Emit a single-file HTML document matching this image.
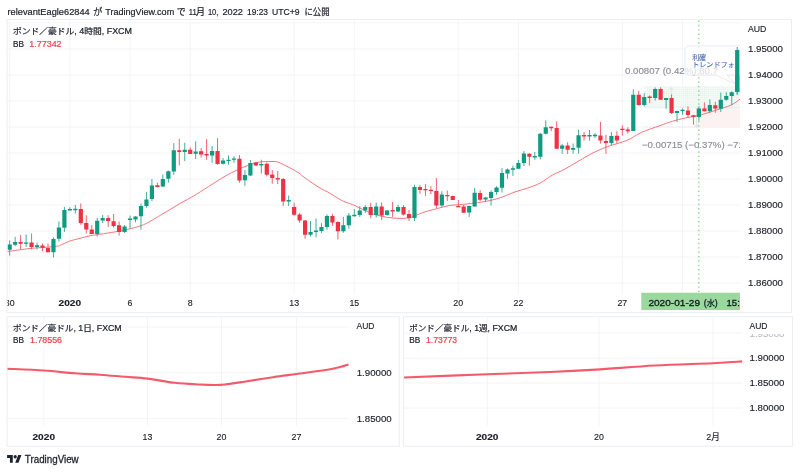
<!DOCTYPE html><html><head><meta charset="utf-8"><title>TradingView chart</title>
<style>html,body{margin:0;padding:0;background:#fff;}body{width:800px;height:472px;overflow:hidden;position:relative;}svg{position:absolute;left:0;top:0;display:block;}text{font-family:"Liberation Sans","Noto Sans CJK JP",sans-serif;}</style></head><body>
<svg width="800" height="472" viewBox="0 0 800 472">
<rect width="800" height="472" fill="#fff"/>
<defs>
<clipPath id="cm"><rect x="7" y="19.5" width="733" height="273.0"/></clipPath>
<clipPath id="ct"><rect x="7" y="292.5" width="733" height="20.19999999999999"/></clipPath>
<pattern id="dots" x="644.1" y="86.1" width="2.12" height="2.12" patternUnits="userSpaceOnUse"><rect width="2.12" height="2.12" fill="#f5faf6"/><circle cx="1.06" cy="1.06" r="0.5" fill="#dceee4"/></pattern>
<clipPath id="cc"><rect x="685" y="46" width="49.8" height="30"/></clipPath>
</defs>
<path d="M9.7 19.5V293.5 M69.87 19.5V293.5 M130.04 19.5V293.5 M190.21 19.5V293.5 M294.14 19.5V293.5 M354.31 19.5V293.5 M458.24 19.5V293.5 M518.41 19.5V293.5 M622.34 19.5V293.5 M682.51 19.5V293.5 M7 22.8H740 M7 49H740 M7 75H740 M7 101H740 M7 127H740 M7 153H740 M7 179H740 M7 205H740 M7 231H740 M7 257H740 M7 283H740" stroke="#f3f4f7" stroke-width="1" fill="none"/>
<g clip-path="url(#cm)">
<rect x="644.1" y="86.1" width="95.89999999999998" height="21.60000000000001" fill="url(#dots)"/>
<rect x="696" y="107.9" width="44" height="19.89999999999999" fill="#fdf2f2"/>
<path d="M644.6 107.6H740M644.6 127H700" stroke="#e6e8ec" stroke-width="0.7" fill="none"/>
<path d="M671.5 107V87.5M669.3 90.2L671.5 87.3L673.7 90.2" stroke="#dfe1e5" stroke-width="0.7" fill="none"/>
<path d="M696.3 108.5V127M694.3 124.6L696.3 127.3L698.3 124.6" stroke="#d5d7dc" stroke-width="0.7" fill="none"/>
</g>
<path d="M698.8 20.5V292" stroke="#7fd585" stroke-width="1.3" stroke-dasharray="1.4 2.96" fill="none"/>
<g clip-path="url(#cm)">
<path d="M7 251.6C7.08 251.58 3.5 252.03 7.5 251.5C11.5 250.97 23.08 249.23 31 248.4C38.92 247.57 49.83 247.15 55 246.5C60.17 245.85 59.5 245.42 62 244.5C64.5 243.58 67 242.03 70 241C73 239.97 76.67 239.17 80 238.3C83.33 237.43 86.67 236.48 90 235.8C93.33 235.12 95.83 234.85 100 234.2C104.17 233.55 110.42 232.7 115 231.9C119.58 231.1 123.33 230.38 127.5 229.4C131.67 228.42 136.88 226.98 140 226C143.12 225.02 144.17 224.5 146.25 223.5C148.33 222.5 149.38 221.83 152.5 220C155.62 218.17 160.83 215 165 212.5C169.17 210 173.33 207.42 177.5 205C181.67 202.58 186.77 199.83 190 198C193.23 196.17 193.15 196.33 196.9 194C200.65 191.67 207.82 186.96 212.5 184C217.18 181.04 220.83 178.62 225 176.25C229.17 173.88 234.17 171.36 237.5 169.75C240.83 168.14 242.5 167.62 245 166.6C247.5 165.57 250.33 164.32 252.5 163.6C254.67 162.88 255.92 162.63 258 162.3C260.08 161.97 262.67 161.73 265 161.6C267.33 161.47 269.92 161.45 272 161.5C274.08 161.55 275.54 161.36 277.5 161.9C279.46 162.44 281.67 163.75 283.75 164.75C285.83 165.75 287.5 166.54 290 167.9C292.5 169.26 296.67 171.55 298.75 172.9C300.83 174.25 300.83 174.72 302.5 176C304.17 177.28 306.67 179.14 308.75 180.6C310.83 182.06 312.92 183.39 315 184.75C317.08 186.11 319.17 187.56 321.25 188.75C323.33 189.94 325.42 190.76 327.5 191.9C329.58 193.04 331.67 194.33 333.75 195.6C335.83 196.87 338.12 198.45 340 199.5C341.88 200.55 342.5 200.88 345 201.9C347.5 202.92 351.67 204.15 355 205.6C358.33 207.05 361.67 209.1 365 210.6C368.33 212.1 371.25 213.47 375 214.6C378.75 215.73 383.33 216.77 387.5 217.4C391.67 218.03 396.25 218.34 400 218.4C403.75 218.46 407.08 218.36 410 217.75C412.92 217.14 415 215.72 417.5 214.75C420 213.78 421.67 212.94 425 211.9C428.33 210.86 433.33 209.58 437.5 208.5C441.67 207.42 445.42 206.12 450 205.4C454.58 204.68 460.42 204.67 465 204.2C469.58 203.73 473.33 203.2 477.5 202.6C481.67 202 485.83 201.55 490 200.6C494.17 199.65 498.33 198.35 502.5 196.9C506.67 195.45 510.83 193.37 515 191.9C519.17 190.43 523.33 189.57 527.5 188.1C531.67 186.63 535.83 185.28 540 183.1C544.17 180.92 548.33 177.35 552.5 175C556.67 172.65 560 171.71 565 169C570 166.29 577.5 161.6 582.5 158.75C587.5 155.9 590.83 153.93 595 151.9C599.17 149.88 603.33 148.12 607.5 146.6C611.67 145.07 616.25 144.02 620 142.75C623.75 141.48 626.46 140.71 630 139C633.54 137.29 636.25 134.73 641.25 132.5C646.25 130.27 654.79 127.47 660 125.6C665.21 123.72 668.33 122.52 672.5 121.25C676.67 119.98 680.65 118.96 685 118C689.35 117.04 693.6 116.75 698.6 115.5C703.6 114.25 709.57 112.25 715 110.5C720.43 108.75 727.03 106.88 731.2 105C735.37 103.12 738.53 100.17 740 99.2" fill="none" stroke="#f6757d" stroke-width="1" stroke-linejoin="round"/>
<path d="M9.7 240.4V255.6M15.17 236.9V246.25M26.11 234.4V246.9M37.05 242.5V249.4M53.46 237.25V257.5M58.93 221.5V241.5M64.4 206.9V231.9M69.87 207.25V210.6M75.34 205V213.5M97.22 218V236.7M102.69 215V223.1M124.57 225V233.1M130.04 215.6V228.75M135.51 216.25V222.25M140.98 203.5V229.75M146.45 191.9V207.75M151.92 179V201.25M162.86 174.4V187.25M168.33 170.6V182.75M173.8 143.1V174.75M184.74 142.75V161M195.68 141.25V159M212.09 146V162.75M223.03 158.1V164.6M228.5 155.25V164.6M233.97 156.25V162.75M244.91 170.1V185.8M250.38 160V176.25M261.32 159.75V173.5M288.67 195.6V206.1M310.55 221V236.5M316.02 218.5V237.5M321.49 223.1V233.1M326.96 214.4V229.75M343.37 216.9V232.75M348.84 213.1V228.75M354.31 209V216.6M359.78 206.25V216.9M365.25 205V212.9M376.19 202.5V217.6M387.13 210V215.6M398.07 204.75V212.1M414.48 184.75V221M441.83 191.25V206.9M469.18 205.6V216.9M474.65 188.1V206.9M485.59 196.9V201.9M491.06 190.25V205.6M496.53 186.25V194.75M502 168.1V192.5M507.47 168.5V178.75M512.94 165.6V175.9M518.41 160V168.75M523.88 151V166M534.82 151.9V159.75M540.29 133.1V159.4M545.76 120.25V134.4M562.17 144V153.75M573.11 143.5V153.75M578.58 129.75V153.75M589.52 130V140.6M594.99 133.1V138.1M611.4 131.9V145M633.28 89.4V131M644.22 93.1V106.5M655.16 87.5V100.6M666.1 98.1V108.75M677.04 110.6V121.9M682.51 108.5V114.75M698.92 106.2V120.5M709.86 99.3V113.3M720.8 92.5V112M726.27 92.2V100.8M731.74 91.3V105.3M737.21 47V94.6" stroke="#3fae98" stroke-width="1" fill="none"/>
<path d="M20.64 235V249.4M31.58 233.5V249.4M42.52 243.5V251.25M47.99 243.5V252.25M80.81 203.5V224.75M86.28 215.25V233.5M91.75 225V233.9M108.16 215.25V226.9M113.63 214V227.5M119.1 221.5V235.6M157.39 182.75V187.5M179.27 138.75V165.4M190.21 147.25V154M201.15 148.1V157.5M206.62 139.1V159.75M217.56 138.1V164.6M239.44 155V182.75M255.85 161.9V165.6M266.79 162.5V176.5M272.26 170V183.75M277.73 171V184M283.2 178.1V206M294.14 202.7V215.6M299.61 213.1V222.75M305.08 220V238.75M332.43 214.1V225.9M337.9 221.25V239.6M370.72 202.9V218.1M381.66 202.4V220M392.6 201.9V216.9M403.54 205V215.6M409.01 210V221M419.95 185V193.75M425.42 184.1V195.9M430.89 186.25V194.1M436.36 178.1V208.1M447.3 190.6V201M452.77 195.6V200M458.24 200V207.1M463.71 205V212.75M480.12 190.25V201M529.35 153.1V165.6M551.23 126.6V131.25M556.7 121.25V149M567.64 142.25V154M584.05 131.9V140.6M600.46 121.9V143.5M605.93 134.75V153.75M616.87 131.25V143.1M622.34 125.25V135.6M627.81 127.25V133.5M638.75 91V105.6M649.69 95.4V103.1M660.63 87.25V100M671.57 94.4V114M687.98 106.25V118.1M693.45 114.75V124.75M704.39 102.4V111.3M715.33 101.8V112.8" stroke="#f4606e" stroke-width="1" fill="none"/>
<path d="M7.6 244.4h4.2V249.75h-4.2zM13.07 241.9h4.2V244.75h-4.2zM24.01 242.47h4.2V243.78h-4.2zM34.95 245.25h4.2V246.9h-4.2zM51.36 239h4.2V252.25h-4.2zM56.83 227.5h4.2V238.75h-4.2zM62.3 210h4.2V227.75h-4.2zM67.77 209.1h4.2V210.6h-4.2zM73.24 208.75h4.2V210.25h-4.2zM95.12 220.8h4.2V234h-4.2zM100.59 217.9h4.2V220.6h-4.2zM122.47 226.6h4.2V231.9h-4.2zM127.94 218.6h4.2V219.9h-4.2zM133.41 216.6h4.2V219.4h-4.2zM138.88 206h4.2V216.25h-4.2zM144.35 199.4h4.2V206h-4.2zM149.82 185.6h4.2V199h-4.2zM160.76 179h4.2V186.5h-4.2zM166.23 171.25h4.2V178.75h-4.2zM171.7 150.25h4.2V171.6h-4.2zM182.64 149.75h4.2V151.9h-4.2zM193.58 151.5h4.2V153.75h-4.2zM209.99 151h4.2V155.6h-4.2zM220.93 160.6h4.2V163.75h-4.2zM226.4 159.67h4.2V160.97h-4.2zM231.87 158.47h4.2V159.78h-4.2zM242.81 175h4.2V180.3h-4.2zM248.28 162.9h4.2V175.4h-4.2zM259.22 164.1h4.2V165.6h-4.2zM286.57 199.9h4.2V201.6h-4.2zM308.45 231.9h4.2V234.75h-4.2zM313.92 230.6h4.2V231.9h-4.2zM319.39 227.1h4.2V230.9h-4.2zM324.86 216h4.2V226.9h-4.2zM341.27 225.25h4.2V231.25h-4.2zM346.74 215.6h4.2V225.25h-4.2zM352.21 214.85h4.2V216.15h-4.2zM357.68 210.6h4.2V215h-4.2zM363.15 207.1h4.2V210.6h-4.2zM374.09 206.4h4.2V215h-4.2zM385.03 210.6h4.2V215h-4.2zM395.97 207.1h4.2V211.5h-4.2zM412.38 186.9h4.2V218.1h-4.2zM439.73 194.6h4.2V205.6h-4.2zM467.08 206h4.2V212.5h-4.2zM472.55 192.7h4.2V206.4h-4.2zM483.49 197.5h4.2V199.4h-4.2zM488.96 191.9h4.2V197.9h-4.2zM494.43 187.5h4.2V191.9h-4.2zM499.9 173.1h4.2V187.75h-4.2zM505.37 169.4h4.2V173.4h-4.2zM510.84 168.35h4.2V169.65h-4.2zM516.31 163.1h4.2V168.75h-4.2zM521.78 153.5h4.2V163.1h-4.2zM532.72 156h4.2V157.6h-4.2zM538.19 133.75h4.2V156.75h-4.2zM543.66 127.25h4.2V133.75h-4.2zM560.07 145.6h4.2V148.75h-4.2zM571.01 147.9h4.2V149.75h-4.2zM576.48 135.25h4.2V147.75h-4.2zM587.42 135h4.2V136.5h-4.2zM592.89 134.75h4.2V136.25h-4.2zM609.3 135.9h4.2V143.1h-4.2zM631.18 94.75h4.2V131h-4.2zM642.12 96.9h4.2V105h-4.2zM653.06 89h4.2V98.1h-4.2zM664 98.1h4.2V100h-4.2zM674.94 111h4.2V113.1h-4.2zM680.41 109.72h4.2V111.03h-4.2zM696.82 108.5h4.2V116.9h-4.2zM707.76 105h4.2V111.3h-4.2zM718.7 99.7h4.2V108.8h-4.2zM724.17 96h4.2V99.7h-4.2zM729.64 92.2h4.2V96h-4.2zM735.11 50h4.2V91.9h-4.2z" fill="#0f9b80"/>
<path d="M18.54 242.1h4.2V243.75h-4.2zM29.48 242.5h4.2V246.9h-4.2zM40.42 245.6h4.2V247.75h-4.2zM45.89 247.9h4.2V252.25h-4.2zM78.71 209.1h4.2V222.9h-4.2zM84.18 222.9h4.2V229.6h-4.2zM89.65 229.5h4.2V233.9h-4.2zM106.06 217.9h4.2V221h-4.2zM111.53 221.25h4.2V225.9h-4.2zM117 225.25h4.2V231.9h-4.2zM155.29 185.25h4.2V186.9h-4.2zM177.17 150.25h4.2V151.9h-4.2zM188.11 149.75h4.2V154h-4.2zM199.05 151.25h4.2V154.6h-4.2zM204.52 154.1h4.2V155.6h-4.2zM215.46 151h4.2V164h-4.2zM237.34 158.75h4.2V180.6h-4.2zM253.75 162.5h4.2V165.6h-4.2zM264.69 163.75h4.2V174.75h-4.2zM270.16 174.4h4.2V178.1h-4.2zM275.63 178.1h4.2V179.6h-4.2zM281.1 179.1h4.2V201.5h-4.2zM292.04 207h4.2V214.75h-4.2zM297.51 214.4h4.2V220.4h-4.2zM302.98 220.4h4.2V234.75h-4.2zM330.33 216h4.2V222.5h-4.2zM335.8 222.1h4.2V231.25h-4.2zM368.62 207.1h4.2V215h-4.2zM379.56 206.4h4.2V215.6h-4.2zM390.5 210h4.2V211.5h-4.2zM401.44 207.1h4.2V214.4h-4.2zM406.91 214h4.2V218.1h-4.2zM417.85 186.9h4.2V190h-4.2zM423.32 189.03h4.2V190.33h-4.2zM428.79 189.72h4.2V191.03h-4.2zM434.26 190.9h4.2V205.6h-4.2zM445.2 194.97h4.2V196.28h-4.2zM450.67 196h4.2V200h-4.2zM456.14 205.9h4.2V207.2h-4.2zM461.61 206.6h4.2V212.75h-4.2zM478.02 192.9h4.2V199.75h-4.2zM527.25 153.75h4.2V156.75h-4.2zM549.13 126.85h4.2V128.15h-4.2zM554.6 127.9h4.2V148.75h-4.2zM565.54 145.6h4.2V149.75h-4.2zM581.95 135h4.2V136.6h-4.2zM598.36 135.4h4.2V140.6h-4.2zM603.83 141h4.2V143.1h-4.2zM614.77 135.8h4.2V140.4h-4.2zM620.24 128.72h4.2V130.03h-4.2zM625.71 129.4h4.2V131.25h-4.2zM636.65 94.75h4.2V105h-4.2zM647.59 96.6h4.2V98.1h-4.2zM658.53 89h4.2V99.75h-4.2zM669.47 98.1h4.2V113.1h-4.2zM685.88 110.6h4.2V115h-4.2zM691.35 115.25h4.2V116.9h-4.2zM702.29 108.5h4.2V111.3h-4.2zM713.23 105.3h4.2V108.4h-4.2z" fill="#ef3145"/>
</g>
<g clip-path="url(#cm)">
<text x="625" y="73.9" font-size="9" fill="#8b8e96" stroke="#8b8e96" stroke-width="0.14" textLength="93" lengthAdjust="spacingAndGlyphs">0.00807 (0.42%) 80.7</text>
<text x="641.8" y="148" font-size="9" fill="#8b8e96" stroke="#8b8e96" stroke-width="0.14" textLength="110" lengthAdjust="spacingAndGlyphs">−0.00715 (−0.37%) −71.5</text>
<path d="M689.5 45.9H760V75H727L735.6 84.2L716 75H689.5Q684.9 75 684.9 70.4V50.5Q684.9 45.9 689.5 45.9Z" fill="#ffffff" fill-opacity="0.72" stroke="#dfe3ec" stroke-width="0.8"/>
<g clip-path="url(#cc)">
<text x="692.2" y="59.5" font-size="7" fill="#4468b8" stroke="#4468b8" stroke-width="0.1"><tspan font-size="6.86">利確</tspan></text>
<text x="692.2" y="66.5" font-size="7" fill="#4468b8" stroke="#4468b8" stroke-width="0.1" textLength="42.45" lengthAdjust="spacingAndGlyphs"><tspan font-size="6.86">トレンドフォ</tspan></text>
</g>
</g>
<g clip-path="url(#cm)"><path d="M737.21 47V94.6" stroke="#3fae98" stroke-width="1"/><path d="M735.11 50h4.2V91.9h-4.2z" fill="#0f9b80"/></g>
<g clip-path="url(#ct)">
<text x="9.7" y="306.4" font-size="8.8" fill="#1c1f29" stroke="#1c1f29" stroke-width="0.14" text-anchor="middle">30</text>
<text x="69.87" y="306.4" font-size="8.8" fill="#1c1f29" stroke="#1c1f29" stroke-width="0.14" font-weight="bold" textLength="22.6" lengthAdjust="spacingAndGlyphs" text-anchor="middle">2020</text>
<text x="130.04" y="306.4" font-size="8.8" fill="#1c1f29" stroke="#1c1f29" stroke-width="0.14" text-anchor="middle">6</text>
<text x="190.21" y="306.4" font-size="8.8" fill="#1c1f29" stroke="#1c1f29" stroke-width="0.14" text-anchor="middle">8</text>
<text x="294.14" y="306.4" font-size="8.8" fill="#1c1f29" stroke="#1c1f29" stroke-width="0.14" text-anchor="middle">13</text>
<text x="354.31" y="306.4" font-size="8.8" fill="#1c1f29" stroke="#1c1f29" stroke-width="0.14" text-anchor="middle">15</text>
<text x="458.24" y="306.4" font-size="8.8" fill="#1c1f29" stroke="#1c1f29" stroke-width="0.14" text-anchor="middle">20</text>
<text x="518.41" y="306.4" font-size="8.8" fill="#1c1f29" stroke="#1c1f29" stroke-width="0.14" text-anchor="middle">22</text>
<text x="622.34" y="306.4" font-size="8.8" fill="#1c1f29" stroke="#1c1f29" stroke-width="0.14" text-anchor="middle">27</text>
<rect x="641.3" y="292.5" width="120" height="17.5" fill="#9bd89d"/>
<text x="648.4" y="305.7" font-size="8.8" fill="#131722" stroke="#131722" stroke-width="0.3" textLength="51.6" lengthAdjust="spacingAndGlyphs">2020-01-29</text>
<text x="703.8" y="305.7" font-size="8.8" fill="#131722" stroke="#131722" stroke-width="0.25" textLength="14" lengthAdjust="spacingAndGlyphs">(<tspan font-size="8.1">水</tspan>)</text>
<text x="726.6" y="305.7" font-size="8.8" fill="#131722" stroke="#131722" stroke-width="0.3" textLength="13.2" lengthAdjust="spacingAndGlyphs">15:</text>
</g>
<text x="748" y="32" font-size="8.7" fill="#1c1f29" stroke="#1c1f29" stroke-width="0.14" textLength="18.4" lengthAdjust="spacingAndGlyphs">AUD</text>
<text x="748" y="52.25" font-size="9" fill="#1c1f29" stroke="#1c1f29" stroke-width="0.14" textLength="35" lengthAdjust="spacingAndGlyphs">1.95000</text>
<text x="748" y="78.25" font-size="9" fill="#1c1f29" stroke="#1c1f29" stroke-width="0.14" textLength="35" lengthAdjust="spacingAndGlyphs">1.94000</text>
<text x="748" y="104.25" font-size="9" fill="#1c1f29" stroke="#1c1f29" stroke-width="0.14" textLength="35" lengthAdjust="spacingAndGlyphs">1.93000</text>
<text x="748" y="130.25" font-size="9" fill="#1c1f29" stroke="#1c1f29" stroke-width="0.14" textLength="35" lengthAdjust="spacingAndGlyphs">1.92000</text>
<text x="748" y="156.25" font-size="9" fill="#1c1f29" stroke="#1c1f29" stroke-width="0.14" textLength="35" lengthAdjust="spacingAndGlyphs">1.91000</text>
<text x="748" y="182.25" font-size="9" fill="#1c1f29" stroke="#1c1f29" stroke-width="0.14" textLength="35" lengthAdjust="spacingAndGlyphs">1.90000</text>
<text x="748" y="208.25" font-size="9" fill="#1c1f29" stroke="#1c1f29" stroke-width="0.14" textLength="35" lengthAdjust="spacingAndGlyphs">1.89000</text>
<text x="748" y="234.25" font-size="9" fill="#1c1f29" stroke="#1c1f29" stroke-width="0.14" textLength="35" lengthAdjust="spacingAndGlyphs">1.88000</text>
<text x="748" y="260.25" font-size="9" fill="#1c1f29" stroke="#1c1f29" stroke-width="0.14" textLength="35" lengthAdjust="spacingAndGlyphs">1.87000</text>
<text x="748" y="286.25" font-size="9" fill="#1c1f29" stroke="#1c1f29" stroke-width="0.14" textLength="35" lengthAdjust="spacingAndGlyphs">1.86000</text>
<text x="13" y="34.4" font-size="8.6" fill="#1c1f29" stroke="#1c1f29" stroke-width="0.22" textLength="119" lengthAdjust="spacingAndGlyphs"><tspan font-size="8.43">ポンド／豪ドル</tspan>, 4<tspan font-size="8.43">時間</tspan>, FXCM</text>
<text x="13" y="46.75" font-size="8.6" fill="#1c1f29" stroke="#1c1f29" stroke-width="0.22" textLength="11" lengthAdjust="spacingAndGlyphs">BB</text>
<text x="29.3" y="46.75" font-size="8.6" fill="#f23f50" stroke="#f23f50" stroke-width="0.22" textLength="32.3" lengthAdjust="spacingAndGlyphs">1.77342</text>
<rect x="7" y="19.5" width="784.5" height="293.2" fill="none" stroke="#eceef2" stroke-width="1"/>
<text x="7.5" y="14.5" font-size="9.4" fill="#1c1f29" stroke="#1c1f29" stroke-width="0.2" textLength="82.2" lengthAdjust="spacingAndGlyphs">relevantEagle62844</text>
<text x="93.2" y="14.5" font-size="9.4" fill="#1c1f29" stroke="#1c1f29" stroke-width="0.2"><tspan font-size="9.02">が</tspan></text>
<text x="105.2" y="14.5" font-size="9.4" fill="#1c1f29" stroke="#1c1f29" stroke-width="0.2" textLength="69" lengthAdjust="spacingAndGlyphs">TradingView.com</text>
<text x="176.8" y="14.5" font-size="9.4" fill="#1c1f29" stroke="#1c1f29" stroke-width="0.2"><tspan font-size="9.02">で</tspan></text>
<text x="188.8" y="14.5" font-size="9.4" fill="#1c1f29" stroke="#1c1f29" stroke-width="0.2" textLength="7.9" lengthAdjust="spacingAndGlyphs">11</text>
<text x="196" y="14.5" font-size="9.4" fill="#1c1f29" stroke="#1c1f29" stroke-width="0.2"><tspan font-size="9.02">月</tspan></text>
<text x="207.9" y="14.5" font-size="9.4" fill="#1c1f29" stroke="#1c1f29" stroke-width="0.2" textLength="10.4" lengthAdjust="spacingAndGlyphs">10,</text>
<text x="222.4" y="14.5" font-size="9.4" fill="#1c1f29" stroke="#1c1f29" stroke-width="0.2" textLength="20.6" lengthAdjust="spacingAndGlyphs">2022</text>
<text x="247" y="14.5" font-size="9.4" fill="#1c1f29" stroke="#1c1f29" stroke-width="0.2" textLength="21" lengthAdjust="spacingAndGlyphs">19:23</text>
<text x="272" y="14.5" font-size="9.4" fill="#1c1f29" stroke="#1c1f29" stroke-width="0.2" textLength="27.6" lengthAdjust="spacingAndGlyphs">UTC+9</text>
<text x="304.4" y="14.5" font-size="9.4" fill="#1c1f29" stroke="#1c1f29" stroke-width="0.2" textLength="25.2" lengthAdjust="spacingAndGlyphs"><tspan font-size="9.02">に公開</tspan></text>
<clipPath id="cl"><rect x="7" y="316.7" width="341.5" height="129.60000000000002"/></clipPath>
<path d="M43.75 316.7V425.5 M147.5 316.7V425.5 M221.5 316.7V425.5 M296.5 316.7V425.5 M7 327H348.5 M7 372.8H348.5 M7 418.6H348.5" stroke="#f3f4f7" stroke-width="1" fill="none"/>
<g clip-path="url(#cl)"><path d="M7 368.7C13.12 369 32.42 369.73 43.75 370.5C55.08 371.27 65.62 372.6 75 373.3C84.38 374 91.67 374.12 100 374.7C108.33 375.28 117.08 376.15 125 376.8C132.92 377.45 139.17 377.6 147.5 378.6C155.83 379.6 166.25 381.82 175 382.8C183.75 383.78 193.33 384.13 200 384.5C206.67 384.87 210.83 385 215 385C219.17 385 220.18 385.03 225 384.5C229.82 383.97 235.9 383.02 243.9 381.8C251.9 380.58 264.23 378.5 273 377.2C281.77 375.9 287.72 375.2 296.5 374C305.28 372.8 318.45 371.17 325.7 370C332.95 368.83 336.2 367.9 340 367C343.8 366.1 347.08 365 348.5 364.6" fill="none" stroke="#f55a6c" stroke-width="2.15" stroke-linejoin="round" stroke-linecap="round"/></g>
<text x="43.75" y="440" font-size="8.8" fill="#1c1f29" stroke="#1c1f29" stroke-width="0.14" font-weight="bold" textLength="22.6" lengthAdjust="spacingAndGlyphs" text-anchor="middle">2020</text>
<text x="147.5" y="440" font-size="8.8" fill="#1c1f29" stroke="#1c1f29" stroke-width="0.14" text-anchor="middle">13</text>
<text x="221.5" y="440" font-size="8.8" fill="#1c1f29" stroke="#1c1f29" stroke-width="0.14" text-anchor="middle">20</text>
<text x="296.5" y="440" font-size="8.8" fill="#1c1f29" stroke="#1c1f29" stroke-width="0.14" text-anchor="middle">27</text>
<text x="356.5" y="329.1" font-size="8.7" fill="#1c1f29" stroke="#1c1f29" stroke-width="0.14" textLength="18" lengthAdjust="spacingAndGlyphs">AUD</text>
<text x="356.7" y="376.05" font-size="9" fill="#1c1f29" stroke="#1c1f29" stroke-width="0.14" textLength="35" lengthAdjust="spacingAndGlyphs">1.90000</text>
<text x="356.7" y="421.85" font-size="9" fill="#1c1f29" stroke="#1c1f29" stroke-width="0.14" textLength="35" lengthAdjust="spacingAndGlyphs">1.85000</text>
<text x="13" y="330.9" font-size="8.6" fill="#1c1f29" stroke="#1c1f29" stroke-width="0.22" textLength="108.7" lengthAdjust="spacingAndGlyphs"><tspan font-size="8.43">ポンド／豪ドル</tspan>, 1<tspan font-size="8.43">日</tspan>, FXCM</text>
<text x="13" y="343.3" font-size="8.6" fill="#1c1f29" stroke="#1c1f29" stroke-width="0.22" textLength="11" lengthAdjust="spacingAndGlyphs">BB</text>
<text x="30" y="343.3" font-size="8.6" fill="#f23f50" stroke="#f23f50" stroke-width="0.22" textLength="32" lengthAdjust="spacingAndGlyphs">1.78556</text>
<rect x="7" y="316.7" width="392.3" height="129.60000000000002" fill="none" stroke="#eceef2" stroke-width="1"/>
<clipPath id="cr"><rect x="403.5" y="316.7" width="338.70000000000005" height="129.60000000000002"/></clipPath>
<path d="M487.2 316.7V425.5 M599 316.7V425.5 M713 316.7V425.5 M403.5 333H742.2 M403.5 358.2H742.2 M403.5 383H742.2 M403.5 408H742.2" stroke="#f3f4f7" stroke-width="1" fill="none"/>
<g clip-path="url(#cr)"><path d="M403.5 377.5C417.42 376.97 462.58 375.22 487 374.3C511.42 373.38 531.83 372.78 550 372C568.17 371.22 578.5 370.68 596 369.6C613.5 368.52 635.5 366.57 655 365.5C674.5 364.43 698.5 363.88 713 363.2C727.5 362.52 737.17 361.7 742 361.4" fill="none" stroke="#f55a6c" stroke-width="2.15" stroke-linejoin="round" stroke-linecap="round"/></g>
<text x="487.2" y="440" font-size="8.8" fill="#1c1f29" stroke="#1c1f29" stroke-width="0.14" font-weight="bold" textLength="22.6" lengthAdjust="spacingAndGlyphs" text-anchor="middle">2020</text>
<text x="599" y="440" font-size="8.8" fill="#1c1f29" stroke="#1c1f29" stroke-width="0.14" text-anchor="middle">20</text>
<text x="713" y="440" font-size="8.8" fill="#1c1f29" stroke="#1c1f29" stroke-width="0.14" text-anchor="middle">2<tspan font-size="8.62">月</tspan></text>
<clipPath id="cf"><rect x="745" y="334.3" width="45" height="10"/></clipPath>
<g clip-path="url(#cf)">
<text x="749.5" y="336.7" font-size="9" fill="#b9bbc2" stroke="#b9bbc2" stroke-width="0.14" textLength="35" lengthAdjust="spacingAndGlyphs">1.95000</text>
</g>
<text x="749.5" y="329.1" font-size="8.7" fill="#1c1f29" stroke="#1c1f29" stroke-width="0.14" textLength="18" lengthAdjust="spacingAndGlyphs">AUD</text>
<text x="749.5" y="361.45" font-size="9" fill="#1c1f29" stroke="#1c1f29" stroke-width="0.14" textLength="35" lengthAdjust="spacingAndGlyphs">1.90000</text>
<text x="749.5" y="386.25" font-size="9" fill="#1c1f29" stroke="#1c1f29" stroke-width="0.14" textLength="35" lengthAdjust="spacingAndGlyphs">1.85000</text>
<text x="749.5" y="411.25" font-size="9" fill="#1c1f29" stroke="#1c1f29" stroke-width="0.14" textLength="35" lengthAdjust="spacingAndGlyphs">1.80000</text>
<text x="409.2" y="330.9" font-size="8.6" fill="#1c1f29" stroke="#1c1f29" stroke-width="0.22" textLength="108.1" lengthAdjust="spacingAndGlyphs"><tspan font-size="8.43">ポンド／豪ドル</tspan>, 1<tspan font-size="8.43">週</tspan>, FXCM</text>
<text x="409.2" y="343.3" font-size="8.6" fill="#1c1f29" stroke="#1c1f29" stroke-width="0.22" textLength="11" lengthAdjust="spacingAndGlyphs">BB</text>
<text x="426" y="343.3" font-size="8.6" fill="#f23f50" stroke="#f23f50" stroke-width="0.22" textLength="31" lengthAdjust="spacingAndGlyphs">1.73773</text>
<rect x="403.5" y="316.7" width="389.0" height="129.60000000000002" fill="none" stroke="#eceef2" stroke-width="1"/>
<g transform="translate(7.1,455) scale(0.405,0.43)" fill="#1e222d"><path d="M14 18H7V7H0V0h14v18zM28 18h-8l7.5-18h8L28 18z"/><circle cx="20" cy="4" r="4"/></g>
<text x="24.8" y="462.6" font-size="10.1" fill="#1e222d" stroke="#1e222d" stroke-width="0.28" textLength="53.9" lengthAdjust="spacingAndGlyphs">TradingView</text>
</svg></body></html>
